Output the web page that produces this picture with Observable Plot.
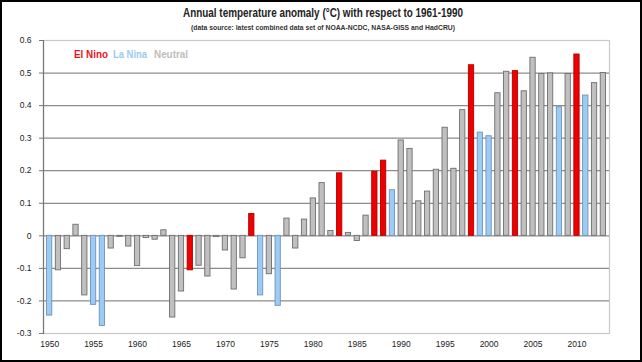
<!DOCTYPE html>
<html><head><meta charset="utf-8">
<script src="https://cdn.jsdelivr.net/npm/d3@7"></script>
<script src="https://cdn.jsdelivr.net/npm/@observablehq/plot@0.6"></script>
<style>
html,body{margin:0;padding:0;background:#fff;}
#wrap{position:relative;width:642px;height:362px;overflow:hidden;background:#fff;}
#wrap > svg{position:absolute;left:0;top:0;}
#border{position:absolute;left:0;top:0;width:642px;height:362px;box-sizing:border-box;border:2px solid #000;pointer-events:none;z-index:5;}
</style></head><body>
<div id="wrap"><div id="border"></div></div>
<script>
const years = [1950,1951,1952,1953,1954,1955,1956,1957,1958,1959,
  1960,1961,1962,1963,1964,1965,1966,1967,1968,1969,
  1970,1971,1972,1973,1974,1975,1976,1977,1978,1979,
  1980,1981,1982,1983,1984,1985,1986,1987,1988,1989,
  1990,1991,1992,1993,1994,1995,1996,1997,1998,1999,
  2000,2001,2002,2003,2004,2005,2006,2007,2008,2009,
  2010,2011,2012,2013];
const anomalies = [-0.245,-0.106,-0.041,0.034,-0.183,-0.212,-0.277,-0.039,-0.003,-0.033,
  -0.093,-0.007,-0.012,0.017,-0.251,-0.171,-0.106,-0.092,-0.125,-0.004,
  -0.045,-0.165,-0.069,0.067,-0.183,-0.118,-0.215,0.053,-0.039,0.050,
  0.115,0.162,0.015,0.192,0.009,-0.016,0.062,0.197,0.231,0.140,
  0.293,0.267,0.106,0.136,0.203,0.332,0.206,0.386,0.524,0.317,
  0.306,0.438,0.504,0.506,0.444,0.547,0.497,0.499,0.395,0.497,
  0.557,0.431,0.469,0.500];
const elNinoYears = [1966,1973,1983,1987,1988,1998,2003,2010];
const laNinaYears = [1950,1955,1956,1974,1976,1989,1999,2000,2008,2011];
const phases = ["El Nino","La Nina","Neutral"];
const phaseFill = ["#ee0000","#9ccbf5","#c0c0c0"];
const phaseStroke = ["#b00000","#6f93b8","#6e6e6e"];
const legendText = ["#e8141c","#9cc9ee","#bdbdbd"];
const yTicks = [-0.3,-0.2,-0.1,0,0.1,0.2,0.3,0.4,0.5,0.6];
const xTickYears = [1950,1955,1960,1965,1970,1975,1980,1985,1990,1995,2000,2005,2010];
const titleText = "Annual temperature anomaly (°C) with respect to 1961-1990";
const subtitleText = "(data source: latest combined data set of NOAA-NCDC, NASA-GISS and HadCRU)";

const phaseOf = y => elNinoYears.includes(y) ? 0 : laNinaYears.includes(y) ? 1 : 2;
const data = years.map((y,i)=>({year:y, value:anomalies[i], p:phaseOf(y)}));

const font = "'Liberation Sans Narrow','Liberation Sans',Arial,sans-serif";
const chart = Plot.plot({
  width:642, height:362,
  marginLeft:43, marginRight:33, marginTop:40, marginBottom:29,
  style:{fontFamily:font, fontSize:"8.5px", color:"#222", background:"transparent"},
  x:{type:"band", domain:years, padding:0.4, label:null},
  y:{domain:[-0.3,0.6], label:null},
  color:{type:"identity"},
  marks:[
    Plot.frame({stroke:"#c8c8c8", strokeWidth:1.2}),
    Plot.ruleY(yTicks.filter(t=>t>-0.3 && t<0.6), {stroke:"#8c8c8c", strokeWidth:1.3}),
    Plot.frame({anchor:"left", stroke:"#777", strokeWidth:1.2}),
    Plot.barY(data,{x:"year", y:"value", fill:d=>phaseFill[d.p], stroke:d=>phaseStroke[d.p], strokeWidth:0.9}),
    Plot.axisY({ticks:yTicks, tickFormat:d=>d===0?"0":d.toFixed(1), tickSize:4, tickPadding:8, stroke:"#777", label:null}),
    Plot.axisX({ticks:xTickYears, tickFormat:d=>String(d), tickSize:0, tickPadding:7, label:null})
  ]
});
document.getElementById("wrap").appendChild(chart);

const ov = d3.select("#wrap").append("svg").attr("width",642).attr("height",362)
  .style("font-family",font).style("pointer-events","none");
ov.append("text").attr("x",323).attr("y",17).attr("text-anchor","middle")
  .attr("font-weight","bold").attr("font-size",12.5).attr("fill","#222")
  .attr("textLength",280).attr("lengthAdjust","spacingAndGlyphs").text(titleText);
ov.append("text").attr("x",323).attr("y",30).attr("text-anchor","middle")
  .attr("font-weight","bold").attr("font-size",7).attr("fill","#333")
  .attr("textLength",264).attr("lengthAdjust","spacingAndGlyphs").text(subtitleText);
const legendX = [74,113,154];
phases.forEach((t,i)=>{
  ov.append("text").attr("x",legendX[i]).attr("y",58)
    .attr("font-weight","bold").attr("font-size",10).attr("fill",legendText[i])
    .attr("textLength",34).attr("lengthAdjust","spacingAndGlyphs").text(t);
});
</script>
</body></html>
